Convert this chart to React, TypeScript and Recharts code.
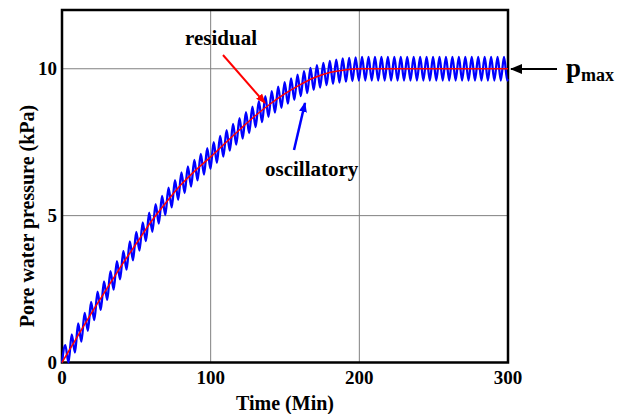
import { LineChart, Line, XAxis, YAxis, CartesianGrid, ReferenceArea } from "recharts"

// residual pore pressure (kPa) read every 10 min
const resTime = [0, 10, 20, 30, 40, 50, 60, 70, 80, 90, 100, 110, 120, 130, 140, 150, 160, 170, 180, 190, 200, 210, 220, 230, 240, 250, 260, 270, 280, 290, 300]
const resValue = [0, 0.85, 1.7, 2.5, 3.3, 4.05, 4.8, 5.45, 6.05, 6.55, 7.0, 7.48, 7.95, 8.4, 8.8, 9.15, 9.45, 9.7, 9.87, 9.96, 10, 10, 10, 10, 10, 10, 10, 10, 10, 10, 10]

// oscillatory pore pressure: crests and troughs
const oscTime = [
  0, 2.2, 4.37, 6.54, 8.71, 10.88, 13.05, 15.22, 17.39, 19.56, 21.73,
  23.9, 26.07, 28.24, 30.41, 32.58, 34.75, 36.92, 39.09, 41.26, 43.43,
  45.6, 47.77, 49.94, 52.11, 54.28, 56.45, 58.62, 60.79, 62.96, 65.13,
  67.3, 69.47, 71.64, 73.81, 75.98, 78.15, 80.32, 82.49, 84.66, 86.83,
  89.0, 91.17, 93.34, 95.51, 97.68, 99.85, 102.02, 104.19, 106.36, 108.53,
  110.7, 112.87, 115.04, 117.21, 119.38, 121.55, 123.72, 125.89, 128.06, 130.23,
  132.4, 134.57, 136.74, 138.91, 141.08, 143.25, 145.42, 147.59, 149.76, 151.93,
  154.1, 156.27, 158.44, 160.61, 162.78, 164.95, 167.12, 169.29, 171.46, 173.63,
  175.8, 177.97, 180.14, 182.31, 184.48, 186.65, 188.82, 190.99, 193.16, 195.33,
  197.5, 199.67, 201.84, 204.01, 206.18, 208.35, 210.52, 212.69, 214.86, 217.03,
  219.2, 221.37, 223.54, 225.71, 227.88, 230.05, 232.22, 234.39, 236.56, 238.73,
  240.9, 243.07, 245.24, 247.41, 249.58, 251.75, 253.92, 256.09, 258.26, 260.43,
  262.6, 264.77, 266.94, 269.11, 271.28, 273.45, 275.62, 277.79, 279.96, 282.13,
  284.3, 286.47, 288.64, 290.81, 292.98, 295.15, 297.32, 299.49, 300,
]
const oscValue = [
  0, 0.59, 0, 0.96, 0.34, 1.33, 0.71, 1.69, 1.08, 2.06, 1.44,
  2.41, 1.79, 2.76, 2.13, 3.11, 2.48, 3.45, 2.83, 3.79, 3.16,
  4.12, 3.48, 4.45, 3.81, 4.77, 4.13, 5.1, 4.45, 5.39, 4.73,
  5.67, 5.02, 5.95, 5.28, 6.21, 5.54, 6.47, 5.77, 6.68, 5.99,
  6.9, 6.2, 7.1, 6.4, 7.3, 6.59, 7.5, 6.8, 7.71, 7.01,
  7.91, 7.21, 8.12, 7.42, 8.32, 7.62, 8.52, 7.81, 8.71, 8.01,
  8.9, 8.18, 9.07, 8.36, 9.24, 8.51, 9.39, 8.67, 9.54, 8.81,
  9.67, 8.94, 9.8, 9.07, 9.92, 9.17, 10.03, 9.28, 10.12, 9.36,
  10.2, 9.44, 10.27, 9.49, 10.31, 9.53, 10.35, 9.56, 10.37, 9.58,
  10.39, 9.6, 10.4, 9.6, 10.4, 9.6, 10.4, 9.6, 10.4, 9.6,
  10.4, 9.6, 10.4, 9.6, 10.4, 9.6, 10.4, 9.6, 10.4, 9.6,
  10.4, 9.6, 10.4, 9.6, 10.4, 9.6, 10.4, 9.6, 10.4, 9.6,
  10.4, 9.6, 10.4, 9.6, 10.4, 9.6, 10.4, 9.6, 10.4, 9.6,
  10.4, 9.6, 10.4, 9.6, 10.4, 9.6, 10.4, 9.6, 9.65,
]

const xTicks = [0, 100, 200, 300]
const yTicks = [0, 5, 10]

const residual = resTime.map((t, i) => ({ t, v: resValue[i] }))
const oscillatory = oscTime.map((t, i) => ({ t, v: oscValue[i] }))

const FONT = "'Liberation Serif', 'Times New Roman', serif"
const tickStyle = { fill: "#000", fontSize: 19, fontWeight: 700, fontFamily: FONT }

export default function App() {
  return (
    <div style={{ position: "absolute", left: 0, top: 0, width: 632, height: 414, background: "#fff" }}>
      <LineChart width={632} height={414} margin={{ top: 10, right: 124, left: 0, bottom: 0 }}>
        <CartesianGrid stroke="#808080" strokeWidth={1} />
        <XAxis
          dataKey="t"
          type="number"
          domain={[0, 300]}
          ticks={xTicks}
          height={51.5}
          tickSize={0}
          tickMargin={8}
          axisLine={false}
          tick={tickStyle}
          label={{ value: "Time (Min)", position: "insideBottom", offset: 4, style: { ...tickStyle, fontSize: 20 } }}
        />
        <YAxis
          type="number"
          domain={[0, 12]}
          ticks={yTicks}
          width={62}
          tickSize={0}
          tickMargin={5}
          axisLine={false}
          tick={tickStyle}
        />
        <Line data={oscillatory} dataKey="v" type="monotone" stroke="#0000ff" strokeWidth={2.3} dot={false} isAnimationActive={false} />
        <Line data={residual} dataKey="v" type="monotone" stroke="#ff0000" strokeWidth={1.5} dot={false} isAnimationActive={false} />
        <ReferenceArea x1={0} x2={300} y1={0} y2={12} fill="none" stroke="#000" strokeWidth={2.5} fillOpacity={0} />
      </LineChart>
      <svg width={632} height={414} style={{ position: "absolute", left: 0, top: 0, pointerEvents: "none" }}>
        <defs>
          <marker id="hr" markerWidth="10" markerHeight="8" refX="9" refY="4" orient="auto" markerUnits="userSpaceOnUse">
            <path d="M0,0 L10,4 L0,8 z" fill="#ff0000" />
          </marker>
          <marker id="hb" markerWidth="10" markerHeight="8" refX="9" refY="4" orient="auto" markerUnits="userSpaceOnUse">
            <path d="M0,0 L10,4 L0,8 z" fill="#0000ff" />
          </marker>
          <marker id="hk" markerWidth="12" markerHeight="10" refX="11" refY="5" orient="auto" markerUnits="userSpaceOnUse">
            <path d="M0,0 L12,5 L0,10 z" fill="#000" />
          </marker>
        </defs>
        <text transform="translate(34,216) rotate(-90)" textAnchor="middle" style={{ ...tickStyle, fontSize: 20 }}>
          Pore water pressure (kPa)
        </text>
        <text x={185} y={45} style={{ ...tickStyle, fontSize: 21 }}>residual</text>
        <line x1={223} y1={55} x2={265} y2={103} stroke="#ff0000" strokeWidth={2} markerEnd="url(#hr)" />
        <text x={265} y={176} style={{ ...tickStyle, fontSize: 21 }}>oscillatory</text>
        <line x1={294} y1={150} x2={305} y2={103} stroke="#0000ff" strokeWidth={2.5} markerEnd="url(#hb)" />
        <line x1={557} y1={69} x2={511} y2={69} stroke="#000" strokeWidth={2} markerEnd="url(#hk)" />
        <text x={566} y={77} style={{ ...tickStyle, fontSize: 27 }}>
          p<tspan fontSize={18} dy={4}>max</tspan>
        </text>
      </svg>
    </div>
  )
}
